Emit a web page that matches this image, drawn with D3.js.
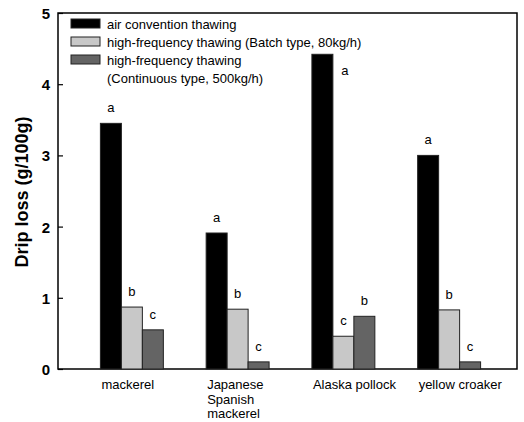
<!DOCTYPE html>
<html>
<head>
<meta charset="utf-8">
<script src="https://cdn.jsdelivr.net/npm/d3@7"></script>
<style>
  html, body { margin: 0; padding: 0; background: #fff; }
  svg { display: block; font-family: "Liberation Sans", Arial, sans-serif; }
</style>
</head>
<body>
<svg id="chart" width="524" height="422"></svg>
<script>
// Drip loss after thawing, by species and thawing method
const species = ["mackerel", "Japanese Spanish mackerel", "Alaska pollock", "yellow croaker"];
const speciesLines = [["mackerel"], ["Japanese", "Spanish", "mackerel"], ["Alaska pollock"], ["yellow croaker"]];
const methods = [
  "air convention thawing",
  "high-frequency thawing (Batch type, 80kg/h)",
  "high-frequency thawing (Continuous type, 500kg/h)"
];
const methodLegendLines = [
  ["air convention thawing"],
  ["high-frequency thawing (Batch type, 80kg/h)"],
  ["high-frequency thawing", "(Continuous type, 500kg/h)"]
];
const airConvection = [3.45, 1.91, 4.42, 3.00];
const batchHF = [0.87, 0.84, 0.46, 0.83];
const continuousHF = [0.55, 0.10, 0.74, 0.10];
const airLetters = ["a", "a", "a", "a"];
const batchLetters = ["b", "b", "c", "b"];
const continuousLetters = ["c", "c", "b", "c"];
const yTicks = [0, 1, 2, 3, 4, 5];

const seriesValues = [airConvection, batchHF, continuousHF];
const seriesLetters = [airLetters, batchLetters, continuousLetters];
const fills = ["#000000", "#c8c8c8", "#646464"];

const svg = d3.select("#chart");
const plotLeft = 58, plotRight = 517, plotTop = 13, plotBottom = 369;

const y = d3.scaleLinear().domain([0, 5]).range([plotBottom, plotTop]);
const x0 = d3.scaleBand().domain(species).range([79, 502]).padding(0);
const x1 = d3.scaleBand().domain(methods).range([0, x0.bandwidth()])
  .paddingInner(0).paddingOuter(1.02);

// Plot frame
svg.append("rect")
  .attr("x", plotLeft).attr("y", plotTop)
  .attr("width", plotRight - plotLeft).attr("height", plotBottom - plotTop)
  .attr("fill", "none").attr("stroke", "#000").attr("stroke-width", 1.5);

// Bars
const groups = svg.append("g").selectAll("g")
  .data(species).join("g")
  .attr("transform", d => `translate(${x0(d)},0)`);

groups.each(function(sp, i) {
  const g = d3.select(this);
  methods.forEach((m, j) => {
    const v = seriesValues[j][i];
    g.append("rect")
      .attr("x", x1(m)).attr("y", y(v))
      .attr("width", x1.bandwidth()).attr("height", y(0) - y(v))
      .attr("fill", fills[j]).attr("stroke", "#222").attr("stroke-width", 1);
    // significance letter; tall bars near the legend get it at their side
    const tall = v > 4;
    g.append("text")
      .attr("x", tall ? x1(m) + x1.bandwidth() + 12 : x1(m) + x1.bandwidth() / 2)
      .attr("y", tall ? y(v) + 21 : y(v) - 11)
      .attr("text-anchor", "middle")
      .attr("font-size", 13).attr("fill", "#000")
      .text(seriesLetters[j][i]);
  });
});

// Y axis with inward ticks
const yAxis = d3.axisRight(y).tickValues(yTicks).tickSize(5).tickFormat(d3.format("d"));
const yg = svg.append("g").attr("transform", `translate(${plotLeft},0)`).call(yAxis);
yg.select(".domain").remove();
yg.selectAll(".tick line").attr("stroke", "#000").attr("stroke-width", 1.2);
yg.selectAll(".tick text")
  .attr("x", -8).attr("dy", "0.36em")
  .attr("text-anchor", "end")
  .attr("font-size", 15).attr("font-weight", "bold")
  .attr("font-family", "Liberation Sans, Arial, sans-serif")
  .attr("fill", "#000");

// Y axis title
svg.append("text")
  .attr("transform", `translate(28,${(plotTop + plotBottom) / 2 + 1}) rotate(-90)`)
  .attr("text-anchor", "middle")
  .attr("font-size", 18).attr("font-weight", "bold")
  .text("Drip loss (g/100g)");

// Category labels
species.forEach((sp, i) => {
  const t = svg.append("text")
    .attr("x", x0(sp) + x1(methods[0]) + 1)
    .attr("y", 389)
    .attr("font-size", 13).attr("fill", "#000");
  speciesLines[i].forEach((line, k) => {
    t.append("tspan").attr("x", x0(sp) + x1(methods[0]) + 1)
      .attr("dy", k === 0 ? 0 : 14.5).text(line);
  });
});

// Legend
const legend = svg.append("g");
const legendRows = [19, 37, 55];
methods.forEach((m, j) => {
  legend.append("rect")
    .attr("x", 71).attr("y", legendRows[j])
    .attr("width", 29).attr("height", 9)
    .attr("fill", fills[j]).attr("stroke", "#222").attr("stroke-width", 1);
  const t = legend.append("text")
    .attr("x", 107).attr("y", legendRows[j] + 10)
    .attr("font-size", 13).attr("fill", "#000");
  methodLegendLines[j].forEach((line, k) => {
    t.append("tspan").attr("x", 107).attr("dy", k === 0 ? 0 : 18).text(line);
  });
});
</script>
</body>
</html>
